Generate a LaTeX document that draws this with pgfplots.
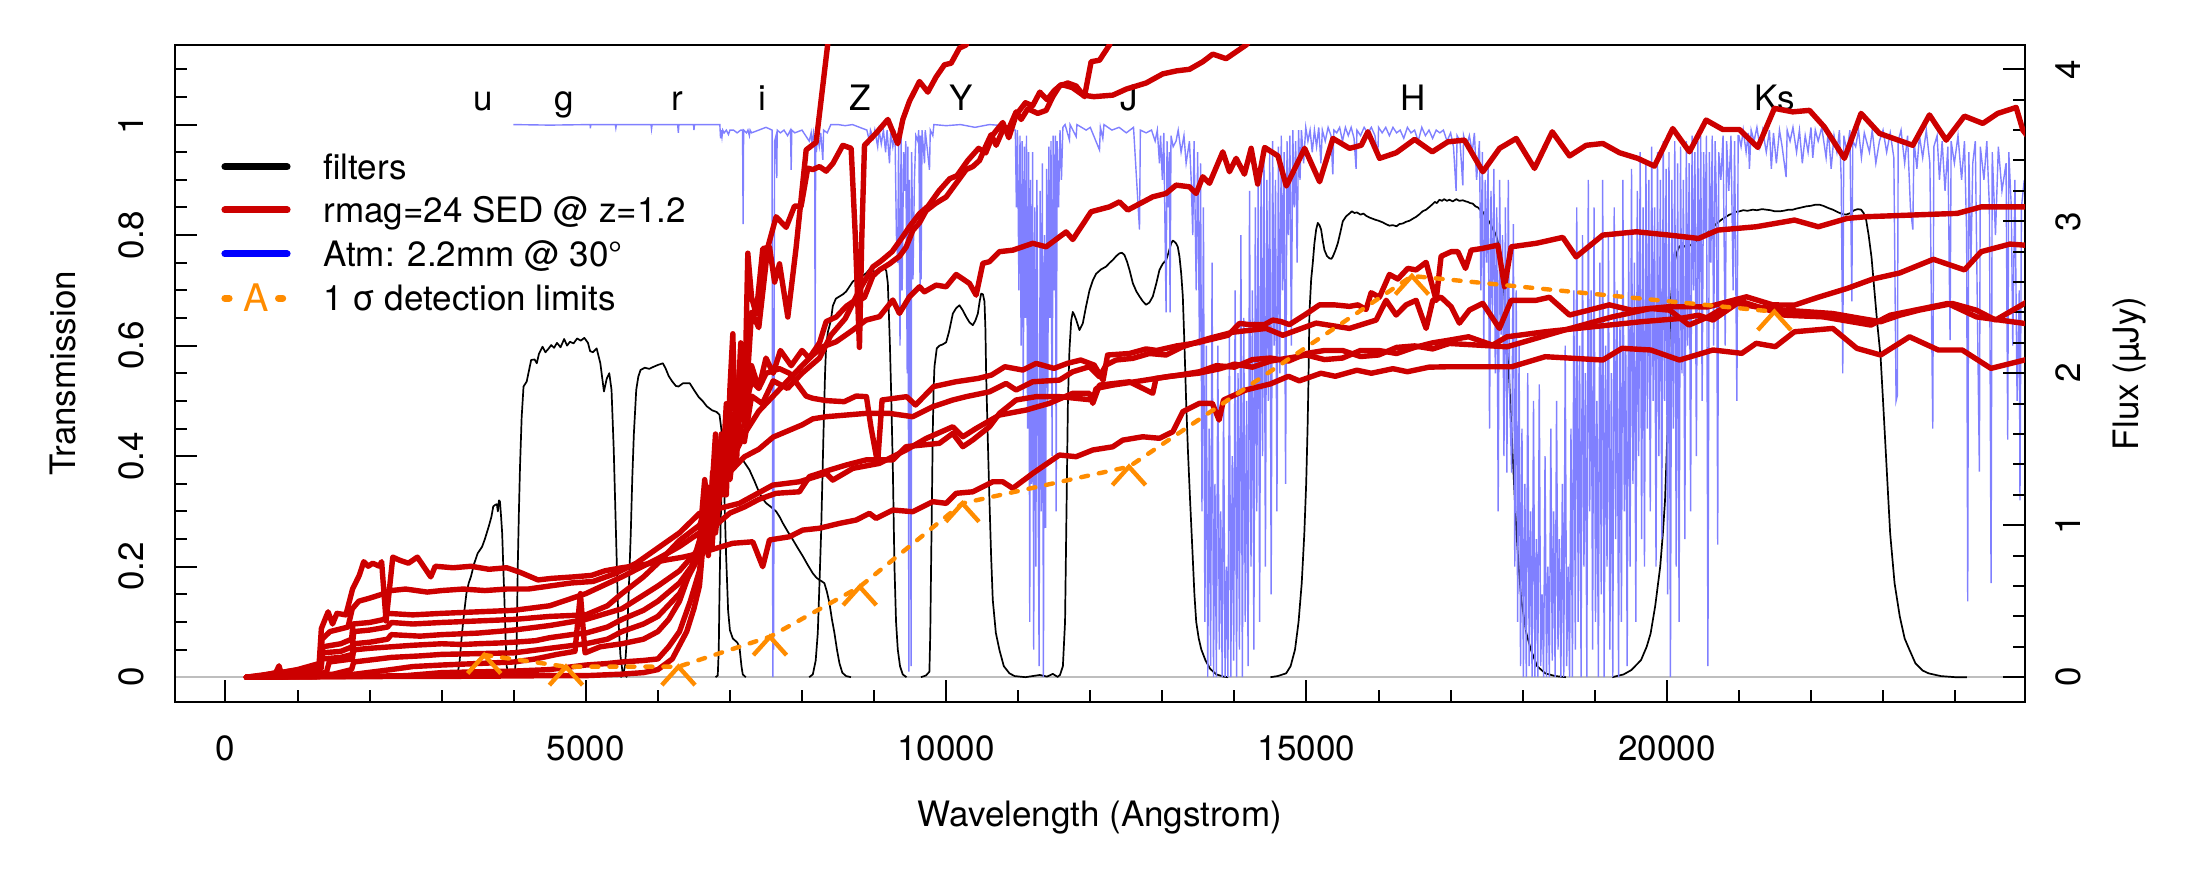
\documentclass[border=0pt]{standalone}
\usepackage{fontspec}
\setmainfont{TeX Gyre Heros}
\usepackage{pgfplots}
\pgfplotsset{compat=1.18}
\definecolor{sedred}{HTML}{CC0000}
\definecolor{atmblue}{HTML}{8080FF}
\definecolor{legblue}{HTML}{0000FF}
\definecolor{detorange}{HTML}{FF8C00}
\definecolor{zerogray}{HTML}{BEBEBE}
\pgfdeclareplotmark{caret}{%
 \pgfpathmoveto{\pgfqpoint{-8.3bp}{-9.2bp}}%
 \pgfpathlineto{\pgfqpoint{0bp}{0bp}}%
 \pgfpathlineto{\pgfqpoint{8.3bp}{-9.2bp}}%
 \pgfusepathqstroke}
\newcommand{\fs}{\fontsize{17.5bp}{21bp}\selectfont}
\begin{document}
\begin{tikzpicture}
\useasboundingbox (-87.5bp,-89.25bp) rectangle (1012.5bp,350.75bp);
\begin{axis}[
 at={(0,0)}, anchor=south west,
 width=925bp, height=328.25bp, scale only axis,
 xmin=-700, xmax=24970, ymin=-0.044, ymax=1.144,
 scaled x ticks=false, scaled y ticks=false,
 axis line style={line width=1bp},
 tick align=inside,
 xtick pos=left, ytick pos=left,
 xtick={0,5000,10000,15000,20000},
 xticklabels={0,5000,10000,15000,20000},
 minor xtick={1000,2000,3000,4000,6000,7000,8000,9000,11000,12000,13000,14000,16000,17000,18000,19000,21000,22000,23000,24000},
 ytick={0,0.2,0.4,0.6,0.8,1},
 yticklabels={0,0.2,0.4,0.6,0.8,1},
 minor ytick={0.05,0.1,0.15,0.25,0.3,0.35,0.45,0.5,0.55,0.65,0.7,0.75,0.85,0.9,0.95,1.05,1.1},
 major tick length=10.8bp, minor tick length=5.8bp,
 every tick/.style={black, line width=1bp},
 xticklabel style={font=\fs, anchor=north, inner sep=0pt},
 xticklabel shift=16.75bp,
 yticklabel style={font=\fs, rotate=90, anchor=south, inner sep=0pt},
 yticklabel shift=15.5bp,
]
\addplot[zerogray, line width=1.3bp] coordinates {(-700,0) (24970,0)};
% filters
\addplot[black, line width=0.85bp, line join=round] coordinates {(3200,0) (3219,0.003) (3250,0.03) (3282,0.079) (3315,0.12) (3344,0.152) (3375,0.17) (3406,0.182) (3450,0.205) (3499,0.224) (3561,0.236) (3600,0.25) (3654,0.273) (3690,0.29) (3716,0.309) (3745,0.312) (3766,0.313) (3780,0.3) (3795,0.32) (3809,0.318) (3825,0.29) (3840,0.26) (3855,0.2) (3871,0.14) (3887,0.07) (3902,0.02) (3930,0.004) (3960,0)};
\addplot[black, line width=0.85bp, line join=round] coordinates {(3990,0) (4012,0.003) (4040,0.05) (4056,0.2) (4072,0.3) (4087,0.38) (4110,0.47) (4136,0.526) (4180,0.535) (4242,0.574) (4290,0.575) (4320,0.568) (4350,0.585) (4400,0.598) (4440,0.588) (4480,0.594) (4520,0.601) (4560,0.596) (4600,0.605) (4650,0.597) (4700,0.612) (4740,0.6) (4780,0.607) (4830,0.604) (4880,0.613) (4930,0.609) (4980,0.614) (5030,0.605) (5060,0.59) (5100,0.588) (5150,0.595) (5202,0.568) (5252,0.517) (5290,0.54) (5326,0.55) (5357,0.52) (5388,0.411) (5419,0.26) (5450,0.11) (5480,0.04) (5512,0.007) (5574,0)};
\addplot[black, line width=0.85bp, line join=round] coordinates {(5480,0) (5512,0.003) (5545,0.02) (5574,0.08) (5600,0.17) (5624,0.26) (5645,0.36) (5667,0.44) (5700,0.52) (5729,0.544) (5760,0.556) (5820,0.56) (5880,0.558) (5946,0.562) (6000,0.565) (6070,0.568) (6110,0.558) (6150,0.545) (6200,0.535) (6250,0.527) (6287,0.526) (6350,0.532) (6442,0.532) (6500,0.52) (6566,0.507) (6620,0.5) (6680,0.49) (6752,0.483) (6814,0.48) (6855,0.475) (6880,0.45) (6901,0.42) (6925,0.32) (6947,0.22) (6975,0.12) (7000,0.085) (7040,0.07) (7100,0.063) (7132,0.055) (7160,0.02) (7178,0.005) (7220,0)};
\addplot[black, line width=0.85bp, line join=round] coordinates {(6800,0) (6831,0.003) (6845,0.05) (6854,0.14) (6870,0.27) (6885,0.35) (6901,0.393) (6924,0.408) (6950,0.4) (6993,0.39) (7040,0.385) (7086,0.387) (7130,0.39) (7178,0.393) (7220,0.385) (7271,0.375) (7340,0.355) (7410,0.333) (7460,0.322) (7502,0.315) (7570,0.308) (7641,0.3) (7690,0.29) (7733,0.279) (7800,0.264) (7872,0.249) (7940,0.234) (8011,0.219) (8080,0.203) (8150,0.188) (8200,0.18) (8242,0.176) (8280,0.173) (8311,0.17) (8345,0.155) (8381,0.134) (8415,0.105) (8450,0.08) (8485,0.05) (8520,0.025) (8560,0.008) (8612,0.002) (8680,0)};
\addplot[black, line width=0.85bp, line join=round] coordinates {(8100,0) (8150,0.005) (8190,0.03) (8219,0.08) (8240,0.16) (8265,0.26) (8298,0.44) (8320,0.55) (8335,0.6) (8360,0.625) (8400,0.645) (8428,0.672) (8470,0.685) (8520,0.689) (8570,0.693) (8613,0.698) (8660,0.707) (8705,0.716) (8750,0.72) (8798,0.722) (8850,0.727) (8890,0.731) (8930,0.737) (8959,0.74) (8995,0.735) (9029,0.731) (9050,0.735) (9075,0.737) (9110,0.74) (9144,0.741) (9170,0.735) (9191,0.713) (9205,0.66) (9220,0.6) (9236,0.52) (9260,0.381) (9283,0.2) (9305,0.1) (9329,0.05) (9360,0.02) (9398,0.005) (9450,0)};
\addplot[black, line width=0.85bp, line join=round] coordinates {(9650,0) (9720,0.003) (9768,0.01) (9780,0.08) (9791,0.2) (9803,0.32) (9814,0.44) (9826,0.52) (9838,0.562) (9870,0.595) (9907,0.6) (9950,0.602) (10000,0.606) (10040,0.625) (10093,0.658) (10140,0.668) (10185,0.673) (10230,0.664) (10278,0.652) (10325,0.642) (10370,0.637) (10405,0.645) (10440,0.658) (10465,0.68) (10486,0.694) (10510,0.693) (10532,0.68) (10545,0.63) (10555,0.55) (10578,0.43) (10601,0.32) (10624,0.22) (10647,0.14) (10690,0.08) (10740,0.049) (10800,0.02) (10878,0.007) (10950,0.002) (11100,0) (11300,0.004) (11400,0.001) (11480,0.006) (11540,0.001)};
\addplot[black, line width=0.85bp, line join=round] coordinates {(11540,0) (11580,0.004) (11620,0.02) (11650,0.1) (11670,0.3) (11690,0.5) (11711,0.592) (11735,0.645) (11757,0.661) (11780,0.655) (11804,0.647) (11850,0.628) (11896,0.64) (11940,0.67) (11989,0.7) (12035,0.718) (12081,0.73) (12150,0.738) (12220,0.743) (12270,0.75) (12313,0.755) (12360,0.762) (12405,0.767) (12440,0.768) (12474,0.764) (12510,0.752) (12544,0.737) (12590,0.713) (12640,0.698) (12683,0.689) (12730,0.68) (12775,0.674) (12820,0.678) (12868,0.689) (12915,0.712) (12960,0.737) (13005,0.748) (13053,0.755) (13090,0.77) (13122,0.785) (13145,0.79) (13168,0.788) (13190,0.785) (13214,0.779) (13238,0.761) (13262,0.73) (13284,0.689) (13307,0.6) (13330,0.5) (13355,0.41) (13385,0.32) (13417,0.23) (13445,0.15) (13470,0.1) (13505,0.07) (13541,0.05) (13600,0.03) (13664,0.015) (13750,0.005) (13850,0.001) (13912,0)};
\addplot[black, line width=0.85bp, line join=round] coordinates {(14500,0) (14600,0.002) (14718,0.007) (14780,0.02) (14841,0.05) (14890,0.1) (14934,0.17) (14970,0.26) (14996,0.351) (15015,0.45) (15027,0.532) (15041,0.659) (15065,0.72) (15087,0.749) (15110,0.785) (15134,0.81) (15157,0.822) (15180,0.818) (15203,0.81) (15226,0.79) (15249,0.773) (15285,0.762) (15319,0.758) (15345,0.757) (15365,0.761) (15400,0.772) (15434,0.785) (15470,0.805) (15504,0.825) (15550,0.834) (15596,0.839) (15630,0.843) (15665,0.84) (15700,0.841) (15750,0.837) (15790,0.839) (15827,0.835) (15870,0.832) (15910,0.83) (15950,0.828) (16000,0.826) (16058,0.823) (16100,0.82) (16150,0.817) (16197,0.818) (16250,0.816) (16290,0.82) (16336,0.821) (16380,0.824) (16430,0.826) (16480,0.83) (16521,0.833) (16570,0.838) (16610,0.843) (16660,0.846) (16706,0.851) (16750,0.856) (16780,0.86) (16810,0.858) (16845,0.864) (16880,0.862) (16910,0.865) (16950,0.862) (16984,0.864) (17030,0.861) (17080,0.865) (17120,0.862) (17169,0.863) (17210,0.861) (17240,0.86) (17270,0.858) (17307,0.857) (17345,0.852) (17380,0.85) (17415,0.845) (17446,0.842) (17490,0.832) (17538,0.824) (17590,0.81) (17631,0.8) (17670,0.78) (17700,0.761) (17725,0.72) (17747,0.688) (17781,0.6) (17816,0.53) (17847,0.441) (17880,0.35) (17914,0.26) (17950,0.19) (17980,0.14) (18050,0.08) (18113,0.05) (18200,0.02) (18313,0.007) (18450,0.002) (18600,0)};
\addplot[black, line width=0.85bp, line join=round] coordinates {(19243,0) (19400,0.005) (19509,0.013) (19642,0.031) (19720,0.055) (19775,0.079) (19840,0.13) (19908,0.2) (19945,0.26) (19975,0.32) (20008,0.441) (20013,0.5) (20036,0.6) (20059,0.689) (20082,0.725) (20106,0.749) (20130,0.765) (20152,0.773) (20175,0.78) (20200,0.776) (20221,0.782) (20250,0.779) (20290,0.786) (20320,0.781) (20360,0.785) (20400,0.79) (20440,0.787) (20476,0.794) (20510,0.797) (20545,0.803) (20580,0.806) (20614,0.812) (20650,0.815) (20690,0.821) (20730,0.825) (20770,0.829) (20820,0.833) (20869,0.837) (20920,0.839) (20960,0.842) (21008,0.843) (21060,0.845) (21120,0.844) (21193,0.846) (21250,0.845) (21320,0.847) (21378,0.846) (21440,0.845) (21500,0.843) (21563,0.843) (21620,0.844) (21690,0.846) (21748,0.846) (21800,0.848) (21870,0.85) (21933,0.852) (22000,0.853) (22060,0.855) (22118,0.855) (22170,0.853) (22240,0.849) (22303,0.846) (22380,0.841) (22440,0.838) (22488,0.837) (22550,0.84) (22600,0.845) (22650,0.847) (22696,0.846) (22730,0.84) (22765,0.828) (22800,0.8) (22840,0.76) (22880,0.7) (22920,0.64) (22966,0.58) (23000,0.5) (23033,0.42) (23070,0.33) (23099,0.26) (23160,0.17) (23232,0.11) (23300,0.07) (23365,0.05) (23450,0.025) (23550,0.012) (23631,0.007) (23800,0.002) (24000,0) (24163,0)};
% atmosphere
\addplot[atmblue, line width=0.7bp] coordinates {(3995,1.0) (4500,0.999) (5060,1.0) (5064,0.993) (5068,1.0) (5410,1.0) (5417,0.994) (5424,1.0) (5905,1.0) (5912,0.992) (5920,1.0) (6275,1.0) (6284,0.985) (6292,1.0) (6495,1.0) (6501,0.99) (6508,1.0) (6860,1.0) (6870,0.975) (6880,0.99) (6890,0.978) (6900,0.99) (6920,0.985) (6950,0.99) (6980,0.982) (7000,0.99) (7050,0.99) (7100,0.985) (7150,0.99) (7175,0.99) (7183,0.82) (7190,0.99) (7230,0.985) (7250,0.99) (7270,0.98) (7280,0.99) (7300,0.985) (7400,0.99) (7500,0.995) (7585,0.99) (7592,0.2) (7596,0.0) (7602,0.3) (7607,0.05) (7614,0.7) (7620,0.97) (7640,0.98) (7650,0.903) (7656,0.99) (7700,0.985) (7750,0.99) (7800,0.98) (7840,0.99) (7850,0.918) (7858,0.99) (7900,0.985) (8000,0.99) (8050,0.98) (8100,0.97) (8127,0.985) (8140,0.96) (8160,0.985) (8176,0.97) (8182,0.59) (8190,0.98) (8200,0.95) (8215,0.98) (8240,0.96) (8260,0.985) (8289,0.936) (8300,0.99) (8350,0.985) (8400,1.0) (8500,1.0) (8600,0.998) (8700,1.0) (8800,0.995) (8900,0.99) (8936,0.97) (8950,0.99) (8990,0.975) (9010,0.99) (9050,0.96) (9070,0.99) (9100,0.965) (9130,0.99) (9160,0.95) (9180,0.99) (9214,0.93) (9230,0.985) (9260,0.96) (9290,0.99) (9310,0.8) (9329,0.75) (9340,0.97) (9360,0.6) (9375,0.98) (9390,0.7) (9410,0.95) (9422,0.88) (9440,0.97) (9460,0.55) (9470,0.96) (9483,0.01) (9490,0.9) (9500,0.75) (9514,0.02) (9522,0.95) (9540,0.72) (9560,0.9) (9580,0.98) (9607,0.97) (9620,0.99) (9638,0.71) (9645,0.98) (9653,0.72) (9665,0.99) (9700,0.93) (9710,0.99) (9769,0.918) (9780,0.99) (9815,0.98) (9830,1.0) (10000,0.998) (10200,1.0) (10400,0.995) (10600,1.0) (10800,0.998) (10950,0.99)
 (10960,0.99) (10975,0.85) (10990,0.99) (11010,0.7) (11025,0.98) (11040,0.6) (11055,0.97) (11070,0.5) (11085,0.96) (11100,0.65) (11115,0.98) (11130,0.45) (11145,0.95) (11160,0.1) (11170,0.9) (11185,0.35) (11200,0.95) (11215,0.05) (11230,0.85) (11245,0.2) (11260,0.9) (11275,0.4) (11290,0.02) (11305,0.88) (11320,0.3) (11335,0.93) (11350,0.0) (11365,0.8) (11380,0.27) (11395,0.92) (11410,0.5) (11425,0.96) (11440,0.65) (11455,0.97) (11470,0.4) (11485,0.98) (11500,0.7) (11515,0.98) (11527,0.3) (11540,0.97) (11560,0.85) (11580,0.99) (11600,0.9) (11620,0.995)
 (11650,1.0) (11711,0.972) (11720,1.0) (11804,0.978) (11815,1.0) (11943,0.99) (12000,0.995) (12128,0.954) (12140,0.995) (12174,0.975) (12190,1.0) (12300,0.99) (12400,0.995) (12500,0.985) (12600,0.995) (12683,0.81) (12695,0.99) (12775,0.985) (12850,0.99) (12900,0.97) (12930,0.99) (12960,0.93) (12975,0.98) (13000,0.9) (13020,0.985) (13052,0.66) (13065,0.97) (13080,0.85) (13098,0.95) (13107,0.66) (13120,0.98) (13150,0.96) (13190,0.97) (13220,0.99) (13260,0.95) (13300,0.98) (13330,0.93) (13376,0.97) (13400,0.9) (13422,0.8) (13440,0.97) (13470,0.7) (13490,0.95) (13515,0.6) (13530,0.93)
 (13550,0.3) (13570,0.85) (13590,0.1) (13610,0.6) (13630,0.0) (13650,0.45) (13670,0.02) (13690,0.75) (13710,0.0) (13730,0.35) (13750,0.0) (13770,0.6) (13790,0.05) (13810,0.3) (13830,0.0) (13850,0.5) (13870,0.0) (13890,0.2) (13910,0.0) (13930,0.62) (13950,0.0) (13970,0.4) (13990,0.03) (14010,0.7) (14030,0.0) (14050,0.55) (14070,0.05) (14090,0.8) (14110,0.0) (14130,0.65) (14150,0.1) (14170,0.5) (14190,0.02) (14210,0.88) (14230,0.2) (14250,0.7) (14270,0.05) (14290,0.85) (14310,0.3) (14330,0.9) (14350,0.1) (14370,0.93) (14390,0.4) (14410,0.96) (14430,0.2) (14450,0.9) (14470,0.5) (14490,0.95) (14510,0.15) (14530,0.97) (14550,0.6) (14570,0.9) (14590,0.3) (14610,0.96) (14630,0.55) (14650,0.98) (14670,0.7) (14690,0.95) (14710,0.35) (14730,0.97) (14750,0.8) (14770,0.98) (14790,0.6) (14810,0.99) (14830,0.85) (14850,0.97) (14870,0.75) (14890,0.99) (14910,0.9) (14930,0.99) (14960,0.93) (14990,0.995)
 (15020,0.97) (15050,0.99) (15080,0.95) (15110,0.99) (15140,0.96) (15170,0.995) (15200,0.93) (15220,0.99) (15260,0.97) (15300,0.995) (15340,0.98) (15365,0.91) (15380,0.99) (15420,0.985) (15460,0.995) (15500,0.97) (15540,0.995) (15580,0.98) (15620,0.995) (15660,0.975) (15688,0.92) (15700,0.99) (15750,0.98) (15800,0.995) (15850,0.985) (15900,0.995) (15950,0.98) (15989,0.94) (16000,0.995) (16050,0.985) (16100,0.995) (16150,0.98) (16200,0.995) (16250,0.985) (16300,0.99) (16350,0.975) (16400,0.995) (16450,0.985) (16500,0.99) (16550,0.97) (16600,0.995) (16650,0.98) (16700,0.99) (16750,0.975) (16800,0.99) (16850,0.985) (16900,0.99) (16950,0.97) (17000,0.985) (17040,0.96) (17076,0.88) (17090,0.98) (17130,0.97) (17169,0.89) (17180,0.98) (17220,0.96) (17260,0.98) (17300,0.95) (17330,0.985) (17360,0.9)
 (17400,0.97) (17420,0.7) (17440,0.95) (17460,0.6) (17480,0.9) (17500,0.75) (17520,0.93) (17540,0.45) (17560,0.88) (17580,0.65) (17600,0.92) (17620,0.55) (17640,0.85) (17660,0.3) (17680,0.9) (17700,0.62) (17720,0.8) (17740,0.4) (17760,0.85) (17781,0.37) (17800,0.9) (17820,0.5) (17847,0.37) (17870,0.82) (17890,0.2) (17910,0.7) (17930,0.1) (17950,0.6) (17970,0.02) (17990,0.45) (18010,0.0) (18030,0.35) (18050,0.0) (18070,0.55) (18090,0.02) (18110,0.3) (18130,0.0) (18150,0.5) (18170,0.0) (18190,0.25) (18210,0.0) (18230,0.53) (18250,0.02) (18270,0.15) (18290,0.0) (18310,0.4) (18330,0.0) (18350,0.2) (18370,0.0) (18390,0.45) (18410,0.03) (18430,0.3) (18450,0.0) (18470,0.5) (18490,0.05) (18510,0.25) (18530,0.0) (18550,0.35) (18570,0.0) (18590,0.6) (18610,0.02) (18630,0.2) (18650,0.0) (18670,0.45) (18690,0.0) (18710,0.7) (18730,0.05) (18750,0.85) (18770,0.1) (18790,0.6) (18810,0.0) (18830,0.8) (18850,0.2) (18870,0.55) (18890,0.0) (18910,0.9) (18930,0.3) (18950,0.7) (18970,0.05) (18990,0.85) (19010,0.1) (19030,0.5) (19050,0.0) (19070,0.75) (19090,0.15) (19110,0.9) (19130,0.0) (19150,0.6) (19170,0.2) (19190,0.8) (19210,0.05) (19230,0.55) (19250,0.0) (19270,0.85) (19290,0.25) (19310,0.7) (19330,0.0) (19350,0.65) (19370,0.1) (19390,0.9) (19410,0.3) (19430,0.6) (19450,0.02) (19470,0.8) (19490,0.2) (19510,0.92) (19530,0.35) (19550,0.75) (19570,0.1) (19590,0.88) (19610,0.4) (19630,0.95) (19650,0.25) (19670,0.85) (19690,0.2) (19710,0.93) (19730,0.45) (19750,0.9) (19770,0.3) (19790,0.96) (19810,0.5) (19830,0.85) (19850,0.2) (19870,0.95) (19890,0.4) (19910,0.9) (19930,0.25) (19950,0.97) (19970,0.5) (19990,0.92) (20010,0.15) (20030,0.95) (20050,0.0) (20070,0.9) (20090,0.45) (20110,0.97) (20130,0.2) (20150,0.93) (20170,0.1) (20190,0.96) (20210,0.55) (20230,0.9) (20250,0.25) (20270,0.97) (20290,0.6) (20310,0.93) (20330,0.3) (20350,0.98) (20370,0.7) (20390,0.95) (20410,0.4) (20430,0.97) (20450,0.65) (20470,0.98) (20490,0.5) (20510,0.95) (20530,0.8) (20550,0.98) (20570,0.02) (20590,0.95) (20610,0.75) (20630,0.98) (20650,0.6) (20670,0.97) (20690,0.85) (20706,0.24) (20720,0.95) (20750,0.9) (20780,0.98) (20810,0.6) (20830,0.97) (20860,0.88) (20890,0.98) (20920,0.7) (20940,0.97) (20972,0.5) (20990,0.98)
 (21000,0.98) (21030,0.96) (21060,0.99) (21100,0.95) (21130,0.985) (21146,0.92) (21170,0.99) (21210,0.97) (21250,0.995) (21290,0.96) (21330,0.99) (21380,0.95) (21424,0.99) (21450,0.92) (21480,0.985) (21520,0.93) (21563,0.99) (21600,0.96) (21655,0.905) (21670,0.99) (21710,0.97) (21750,0.995) (21800,0.95) (21840,0.99) (21880,0.93) (21920,0.98) (21960,0.95) (22000,0.995) (22025,0.94) (22060,0.99) (22100,0.97) (22150,0.995) (22210,0.94) (22240,0.99) (22280,0.92) (22320,0.98) (22360,0.95) (22395,0.99) (22420,0.9) (22441,0.55) (22455,0.98) (22500,0.95) (22540,0.99) (22567,0.68) (22580,0.97) (22620,0.96) (22660,0.99) (22700,0.94) (22740,0.985) (22811,0.95) (22850,0.99) (22900,0.93) (22950,0.97) (23000,0.99) (23050,0.95) (23100,0.985) (23150,0.94) (23181,0.5) (23199,0.51) (23210,0.97) (23250,0.99) (23300,0.93) (23340,0.98) (23380,0.85) (23413,0.81) (23430,0.97) (23470,0.92) (23505,0.98) (23550,0.94) (23600,0.99) (23650,0.93) (23690,0.45) (23705,0.96) (23750,0.98) (23783,0.9) (23820,0.97) (23860,0.88) (23900,0.96) (23930,0.61) (23945,0.97) (23990,0.93) (24040,0.98) (24090,0.9) (24130,0.97) (24160,0.8) (24175,0.137) (24190,0.95) (24220,0.75) (24245,0.93) (24280,0.97) (24337,0.372) (24350,0.96) (24400,0.9) (24440,0.97) (24476,0.85) (24499,0.17) (24515,0.95) (24560,0.8) (24600,0.96) (24650,0.88) (24707,0.93) (24730,0.43) (24745,0.95) (24780,0.85) (24800,0.6) (24830,0.9) (24860,0.5) (24890,0.7) (24900,0.32) (24920,0.85) (24960,0.9)};
\node[font=\fs, anchor=base, inner sep=0pt] at (axis cs:3580,1.026) {u};
\node[font=\fs, anchor=base, inner sep=0pt] at (axis cs:4700,1.026) {g};
\node[font=\fs, anchor=base, inner sep=0pt] at (axis cs:6265,1.026) {r};
\node[font=\fs, anchor=base, inner sep=0pt] at (axis cs:7450,1.026) {i};
\node[font=\fs, anchor=base, inner sep=0pt] at (axis cs:8805,1.026) {Z};
\node[font=\fs, anchor=base, inner sep=0pt] at (axis cs:10205,1.026) {Y};
\node[font=\fs, anchor=base, inner sep=0pt] at (axis cs:12534,1.026) {J};
\node[font=\fs, anchor=base, inner sep=0pt] at (axis cs:16474,1.026) {H};
\node[font=\fs, anchor=base, inner sep=0pt] at (axis cs:21493,1.026) {Ks};
\end{axis}
\begin{axis}[
 at={(0,0)}, anchor=south west,
 width=925bp, height=328.25bp, scale only axis,
 xmin=-700, xmax=24970, ymin=-0.16, ymax=4.16,
 scaled x ticks=false, scaled y ticks=false,
 axis line style={line width=1bp},
 tick align=inside,
 xtick=\empty,
 ytick pos=right, yticklabel pos=right,
 ytick={0,1,2,3,4},
 yticklabels={0,1,2,3,4},
 minor ytick={0.2,0.4,0.6,0.8,1.2,1.4,1.6,1.8,2.2,2.4,2.6,2.8,3.2,3.4,3.6,3.8},
 major tick length=10.8bp, minor tick length=5.8bp,
 every tick/.style={black, line width=1bp},
 yticklabel style={font=\fs, rotate=90, anchor=north, inner sep=0pt},
 yticklabel shift=15bp,
]
\pgfplotsset{sed/.style={sedred, line width=2.7bp, line join=round, line cap=round}}
\addplot[sed] coordinates {(290,0) (1000,0.002) (2000,0.004) (3000,0.005) (4000,0.008) (4500,0.01) (5000,0.01) (5500,0.02) (5800,0.03) (6000,0.05) (6200,0.12) (6400,0.3) (6500,0.45) (6577,0.6) (6650,1.0) (6700,0.8) (6760,1.35) (6820,1.0) (6880,1.6) (6950,1.2) (7000,1.9) (7040,2.26) (7090,1.4) (7150,2.05) (7200,1.7) (7248,2.79) (7300,2.5) (7364,2.39) (7456,2.82) (7549,2.83) (7620,2.6) (7688,2.72) (7803,2.37) (7919,2.83) (8058,3.47) (8196,3.52) (8358,4.17) (8450,4.5)};
\addplot[sed] coordinates {(290,0) (1500,0.003) (2500,0.01) (3000,0.03) (3500,0.035) (4000,0.04) (4500,0.05) (5000,0.08) (5300,0.09) (5500,0.1) (5800,0.11) (6000,0.12) (6150,0.2) (6300,0.3) (6450,0.5) (6577,0.7) (6680,1.1) (6750,0.85) (6850,1.5) (6930,1.2) (7000,1.75) (7080,1.5) (7150,2.2) (7220,1.8) (7300,2.4) (7400,2.3) (7526,2.83) (7641,3.03) (7780,2.96) (7896,3.1) (7988,3.1) (8080,3.35) (8150,3.34) (8243,3.36) (8335,3.33) (8428,3.38) (8566,3.5) (8682,3.48) (8740,2.9) (8797,2.17) (8830,2.9) (8867,3.5) (9029,3.58) (9191,3.67) (9329,3.51) (9399,3.67) (9491,3.79) (9630,3.92) (9746,3.85) (9861,3.95) (9977,4.03) (10069,4.04) (10185,4.14) (10278,4.16) (10400,4.35)};
\addplot[sed] coordinates {(290,0) (1200,0.004) (1800,0.02) (2300,0.05) (2600,0.07) (3000,0.08) (3500,0.09) (4000,0.1) (4300,0.12) (4600,0.15) (4850,0.17) (4925,0.55) (4990,0.16) (5200,0.2) (5500,0.22) (5800,0.25) (6000,0.3) (6150,0.38) (6300,0.5) (6450,0.7) (6577,0.9) (6650,1.3) (6720,1.0) (6800,1.6) (6880,1.2) (6950,1.8) (7050,1.5) (7130,2.0) (7200,1.65) (7300,2.05) (7400,1.9) (7500,2.1) (7600,2.0) (7700,2.15) (7850,2.05) (8000,2.15) (8100,2.1) (8243,2.2) (8335,2.34) (8474,2.37) (8613,2.44) (8705,2.47) (8798,2.48) (8867,2.5) (8983,2.64) (9075,2.68) (9214,2.72) (9353,2.77) (9445,2.83) (9538,2.94) (9630,2.99) (9723,3.07) (9861,3.12) (10000,3.16) (10139,3.25) (10278,3.34) (10370,3.36) (10463,3.4) (10555,3.5) (10624,3.57) (10694,3.5) (10786,3.6) (10879,3.62) (10971,3.72) (11041,3.67) (11133,3.74) (11272,3.71) (11388,3.73) (11480,3.82) (11573,3.89) (11688,3.91) (11804,3.89) (11919,3.82) (12012,4.05) (12128,4.06) (12266,4.16) (12400,4.4)};
\addplot[sed] coordinates {(290,0) (1000,0.005) (1500,0.02) (1750,0.05) (1780,0.1) (2300,0.13) (2700,0.14) (3000,0.15) (3500,0.155) (4000,0.16) (4500,0.19) (5000,0.22) (5300,0.25) (5500,0.3) (5800,0.35) (6000,0.4) (6300,0.55) (6577,0.8) (6700,1.15) (6800,0.95) (6900,1.4) (7000,1.3) (7100,1.7) (7200,1.55) (7300,1.85) (7450,1.8) (7600,1.95) (7800,1.9) (8000,2.0) (8243,2.1) (8400,2.25) (8600,2.36) (8800,2.55) (8983,2.7) (9100,2.74) (9250,2.8) (9400,2.9) (9500,2.97) (9630,3.05) (9750,3.1) (9900,3.2) (10050,3.28) (10150,3.3) (10300,3.4) (10450,3.48) (10550,3.45) (10650,3.57) (10786,3.65) (10870,3.55) (10971,3.7) (11100,3.78) (11200,3.76) (11300,3.85) (11400,3.8) (11500,3.86) (11600,3.9) (11750,3.88) (11900,3.83) (12050,3.82) (12313,3.83) (12500,3.87) (12775,3.91) (13006,3.97) (13200,3.99) (13376,4.0) (13561,4.05) (13700,4.1) (13885,4.07) (14162,4.16) (14400,4.3)};
\addplot[sed] coordinates {(290,0) (800,0.005) (1400,0.03) (1440,0.1) (1600,0.11) (1760,0.12) (1780,0.18) (2000,0.19) (2300,0.2) (2600,0.21) (3000,0.22) (3300,0.215) (3500,0.22) (3800,0.225) (4000,0.23) (4300,0.24) (4500,0.26) (4800,0.28) (5000,0.29) (5300,0.33) (5500,0.38) (5800,0.44) (6000,0.5) (6300,0.62) (6577,0.8) (6800,1.1) (7000,1.4) (7200,1.6) (7400,1.75) (7600,1.85) (7800,1.95) (8000,2.05) (8150,2.12) (8288,2.174) (8473,2.207) (8705,2.284) (8890,2.35) (9075,2.372) (9260,2.482) (9352,2.394) (9491,2.503) (9630,2.569) (9699,2.536) (9861,2.58) (10000,2.569) (10139,2.65) (10324,2.591) (10416,2.514) (10509,2.723) (10601,2.734) (10740,2.8) (10925,2.81) (11202,2.855) (11387,2.832) (11665,2.93) (11757,2.88) (12012,3.063) (12266,3.095) (12405,3.128) (12520,3.074) (12867,3.161) (13052,3.183) (13191,3.238) (13376,3.227) (13469,3.183) (13561,3.293) (13654,3.25) (13839,3.457) (13931,3.326) (14024,3.414) (14139,3.31) (14232,3.48) (14323,3.245) (14419,3.486) (14604,3.43) (14720,3.232) (14974,3.48) (15182,3.26) (15367,3.545) (15598,3.48) (15760,3.5) (15852,3.589) (16014,3.414) (16245,3.451) (16500,3.539) (16745,3.457) (16962,3.523) (17193,3.534) (17447,3.326) (17679,3.48) (17910,3.545) (18164,3.348) (18410,3.589) (18650,3.43) (18881,3.5) (19112,3.512) (19344,3.451) (19597,3.414) (19828,3.363) (20082,3.61) (20314,3.457) (20545,3.666) (20776,3.604) (21007,3.604) (21262,3.486) (21493,3.743) (21748,3.72) (21979,3.73) (22187,3.62) (22464,3.414) (22695,3.71) (22950,3.578) (23413,3.5) (23644,3.7) (23876,3.534) (24129,3.692) (24384,3.644) (24592,3.71) (24847,3.749) (24940,3.6) (25100,3.5)};
\addplot[sed] coordinates {(290,0) (800,0.004) (1300,0.03) (1340,0.12) (1600,0.13) (1760,0.15) (1780,0.22) (2000,0.23) (2250,0.25) (2300,0.28) (2700,0.27) (3000,0.28) (3500,0.29) (4000,0.31) (4500,0.34) (5000,0.38) (5500,0.45) (6000,0.6) (6300,0.7) (6577,0.85) (6700,1.25) (6800,1.1) (6900,1.55) (7000,1.45) (7100,1.8) (7200,1.75) (7300,1.95) (7400,1.9) (7502,2.0) (7687,2.03) (7826,2.0) (7964,1.91) (8057,1.85) (8151,1.835) (8335,1.82) (8585,1.813) (8751,1.85) (8894,1.846) (8956,1.648) (9049,1.407) (9111,1.824) (9452,1.846) (9576,1.791) (9824,1.912) (10133,1.944) (10443,1.966) (10629,1.988) (10815,2.043) (11063,2.021) (11249,2.065) (11496,2.032) (11682,2.065) (11868,2.087) (12054,2.054) (12178,1.955) (12240,2.12) (12543,2.13) (12774,2.16) (12921,2.15) (13200,2.18) (13479,2.2) (13912,2.25) (14070,2.328) (14208,2.32) (14417,2.32) (14532,2.35) (14648,2.34) (14763,2.32) (14995,2.39) (15180,2.45) (15388,2.45) (15596,2.44) (15712,2.45) (15827,2.42) (15897,2.53) (16012,2.5) (16151,2.65) (16267,2.62) (16405,2.69) (16521,2.68) (16660,2.73) (16799,2.48) (16868,2.77) (17008,2.8) (17100,2.8) (17207,2.69) (17285,2.81) (17447,2.822) (17655,2.843) (17748,2.569) (17840,2.832) (18187,2.855) (18556,2.894) (18741,2.766) (19111,2.909) (19577,2.931) (20036,2.909) (20441,2.887) (20707,2.942) (21240,2.964) (21771,3.008) (22102,2.964) (22502,3.019) (22768,3.03) (24031,3.052) (24364,3.095) (24962,3.095) (25100,3.1)};
\addplot[sed] coordinates {(290,0) (900,0.005) (1300,0.04) (1340,0.16) (1600,0.17) (1760,0.2) (1780,0.3) (2000,0.31) (2250,0.33) (2300,0.36) (2600,0.35) (3000,0.36) (3500,0.37) (4000,0.38) (4500,0.4) (5000,0.41) (5300,0.47) (5500,0.55) (5800,0.66) (6000,0.75) (6300,0.9) (6577,1.0) (6800,1.2) (7000,1.35) (7200,1.45) (7400,1.5) (7600,1.58) (7800,1.62) (8000,1.66) (8150,1.7) (8335,1.714) (8890,1.736) (9213,1.736) (9537,1.714) (9815,1.78) (10092,1.824) (10277,1.846) (10601,1.878) (10832,1.933) (10971,1.89) (11202,1.944) (11572,1.955) (11757,2.01) (11988,2.043) (12127,1.977) (12220,2.054) (12358,2.087) (12590,2.098) (12820,2.13) (13052,2.12) (13284,2.175) (13653,2.23) (13977,2.27) (14440,2.295) (14671,2.25) (15134,2.33) (15596,2.295) (15966,2.35) (16105,2.48) (16244,2.383) (16382,2.45) (16521,2.48) (16660,2.295) (16752,2.48) (16868,2.5) (17007,2.438) (17122,2.33) (17261,2.416) (17446,2.46) (17677,2.295) (17839,2.48) (18186,2.48) (18371,2.5) (18649,2.383) (18833,2.405) (19203,2.45) (19509,2.415) (20036,2.438) (20573,2.437) (21105,2.503) (21470,2.45) (21770,2.448) (22100,2.5) (22501,2.558) (22858,2.62) (23232,2.66) (23698,2.75) (24130,2.68) (24362,2.8) (24761,2.85) (24960,2.843) (25100,2.85)};
\addplot[sed] coordinates {(290,0) (1000,0.006) (1200,0.05) (1330,0.06) (1350,0.2) (1600,0.22) (1750,0.25) (1770,0.35) (2000,0.36) (2200,0.38) (2250,0.42) (2600,0.41) (3000,0.42) (3500,0.43) (4000,0.44) (4500,0.47) (5000,0.55) (5500,0.66) (6000,0.78) (6300,0.86) (6577,0.95) (6800,1.0) (7000,1.08) (7200,1.12) (7400,1.17) (7641,1.21) (7964,1.22) (8103,1.32) (8381,1.363) (8612,1.396) (8890,1.43) (9260,1.43) (9445,1.517) (9907,1.539) (10092,1.604) (10231,1.517) (10370,1.561) (10601,1.648) (10740,1.736) (10971,1.824) (11248,1.846) (11572,1.846) (12035,1.824) (12081,1.9) (12312,1.922) (12700,1.95) (13100,1.98) (13500,2.0) (13800,2.03) (14000,2.06) (14250,2.04) (14500,2.08) (14750,2.1) (15000,2.12) (15250,2.09) (15500,2.1) (15750,2.15) (16000,2.15) (16250,2.13) (16500,2.17) (16750,2.2) (16983,2.218) (17249,2.24) (17581,2.185) (17781,2.24) (18313,2.273) (18977,2.306) (19642,2.339) (20174,2.36) (20440,2.382) (20640,2.35) (20972,2.459) (21238,2.437) (21637,2.415) (22302,2.393) (22700,2.36) (22966,2.339) (23232,2.382) (23498,2.415) (23963,2.459) (24295,2.415) (24561,2.35) (24960,2.459) (25100,2.5)};
\addplot[sed] coordinates {(290,0) (600,0.02) (900,0.04) (1200,0.06) (1320,0.07) (1340,0.25) (1450,0.3) (1700,0.33) (1760,0.45) (1850,0.5) (2000,0.52) (2200,0.55) (2300,0.57) (2500,0.58) (2800,0.56) (3000,0.57) (3300,0.58) (3600,0.57) (3900,0.58) (4200,0.58) (4500,0.6) (4800,0.62) (5100,0.63) (5400,0.68) (5700,0.75) (6000,0.85) (6300,0.95) (6577,1.078) (7132,1.144) (7595,1.264) (7964,1.286) (8335,1.341) (8427,1.297) (8705,1.374) (9075,1.407) (9445,1.495) (9722,1.571) (10092,1.648) (10231,1.582) (10416,1.637) (10740,1.725) (11110,1.758) (11433,1.802) (11757,1.868) (11988,1.868) (12035,1.802) (12127,1.922) (12543,1.944) (12867,1.868) (12913,1.966) (13237,1.988) (13515,2.01) (13750,2.05) (14000,2.04) (14250,2.09) (14500,2.1) (14750,2.08) (15000,2.13) (15250,2.15) (15500,2.15) (15750,2.11) (16000,2.12) (16250,2.17) (16500,2.18) (16750,2.16) (16983,2.196) (17781,2.174) (18180,2.229) (18579,2.284) (19243,2.371) (19775,2.426) (20041,2.415) (20307,2.317) (20573,2.371) (20972,2.481) (21637,2.382) (22169,2.371) (22833,2.317) (23099,2.382) (23897,2.459) (24295,2.371) (24960,2.328) (25100,2.32)};
\addplot[sed] coordinates {(290,0) (500,0.01) (700,0.03) (743,0.075) (770,0.03) (1000,0.05) (1300,0.09) (1331,0.32) (1424,0.43) (1486,0.35) (1547,0.42) (1671,0.41) (1764,0.58) (1857,0.67) (1919,0.76) (1981,0.73) (2043,0.75) (2136,0.73) (2167,0.76) (2229,0.37) (2322,0.79) (2415,0.77) (2539,0.75) (2663,0.79) (2849,0.66) (2911,0.73) (3159,0.72) (3407,0.73) (3655,0.71) (3903,0.72) (4089,0.69) (4337,0.64) (4523,0.65) (4832,0.66) (5080,0.67) (5266,0.7) (5500,0.72) (5800,0.74) (6100,0.77) (6350,0.79) (6577,0.815) (7039,0.881) (7317,0.891) (7455,0.727) (7548,0.903) (7826,0.924) (8010,0.968) (8242,0.98) (8519,1.012) (8751,1.034) (8936,1.078) (9028,1.045) (9260,1.1) (9537,1.089) (9815,1.155) (10000,1.144) (10139,1.21) (10370,1.22) (10647,1.286) (10786,1.286) (10925,1.243) (11202,1.341) (11572,1.462) (11804,1.451) (12035,1.495) (12312,1.516) (12451,1.56) (12728,1.582) (12960,1.572) (13145,1.615) (13284,1.747) (13515,1.802) (13694,1.802) (13787,1.692) (13849,1.824) (14159,1.89) (14500,1.93) (14750,1.98) (14900,1.95) (15200,2.0) (15400,1.98) (15700,2.02) (15900,2.0) (16200,2.03) (16400,2.01) (16700,2.04) (16983,2.043) (17848,2.043) (18313,2.109) (19111,2.087) (19378,2.164) (19777,2.153) (20175,2.087) (20641,2.153) (21040,2.131) (21240,2.197) (21505,2.175) (21771,2.273) (22303,2.295) (22636,2.164) (22967,2.12) (23367,2.24) (23767,2.153) (24099,2.153) (24497,2.032) (24962,2.087) (25100,2.1)};
% detection limits
\addplot[detorange, line width=2.2bp, dash pattern=on 3.5bp off 5.5bp, line cap=round, mark=caret, mark options={solid, line width=2.2bp, line cap=butt}] coordinates {(3591,0.146) (4725,0.069) (6286,0.069) (7555,0.266) (8801,0.595) (10226,1.144) (12537,1.385) (16463,2.64) (21492,2.405)};
\end{axis}
% axis titles
\node[font=\fs, anchor=base, inner sep=0pt] at (462.5bp,-62.6bp) {Wavelength (Angstrom)};
\node[font=\fs, rotate=90, anchor=base, inner sep=0pt] at (-49.6bp,164.1bp) {Transmission};
\node[font=\fs, rotate=90, anchor=base, inner sep=0pt] at (981.6bp,164.1bp) {Flux (µJy)};
% legend
\draw[black, line width=3.5bp, line cap=round] (24.95bp,267.4bp) -- (56.05bp,267.4bp);
\draw[sedred, line width=3.5bp, line cap=round] (24.95bp,245.75bp) -- (56.05bp,245.75bp);
\draw[legblue, line width=3.5bp, line cap=round] (24.95bp,223.75bp) -- (56.05bp,223.75bp);
\draw[detorange, line width=3.5bp, line cap=round] (24.95bp,201.6bp) -- (27.05bp,201.6bp);
\draw[detorange, line width=3.5bp, line cap=round] (51.75bp,201.6bp) -- (53.85bp,201.6bp);
\node[font=\fontsize{19bp}{22bp}\selectfont, text=detorange, anchor=base, inner sep=0pt] at (40.5bp,195bp) {A};
\node[font=\fs, anchor=base west, inner sep=0pt] at (74bp,261.1bp) {filters};
\node[font=\fs, anchor=base west, inner sep=0pt] at (74bp,239.45bp) {rmag=24 SED @ z=1.2};
\node[font=\fs, anchor=base west, inner sep=0pt] at (74bp,217.45bp) {Atm: 2.2mm @ 30°};
\node[font=\fs, anchor=base west, inner sep=0pt] at (74bp,195.3bp) {1 σ detection limits};
\end{tikzpicture}
\end{document}
